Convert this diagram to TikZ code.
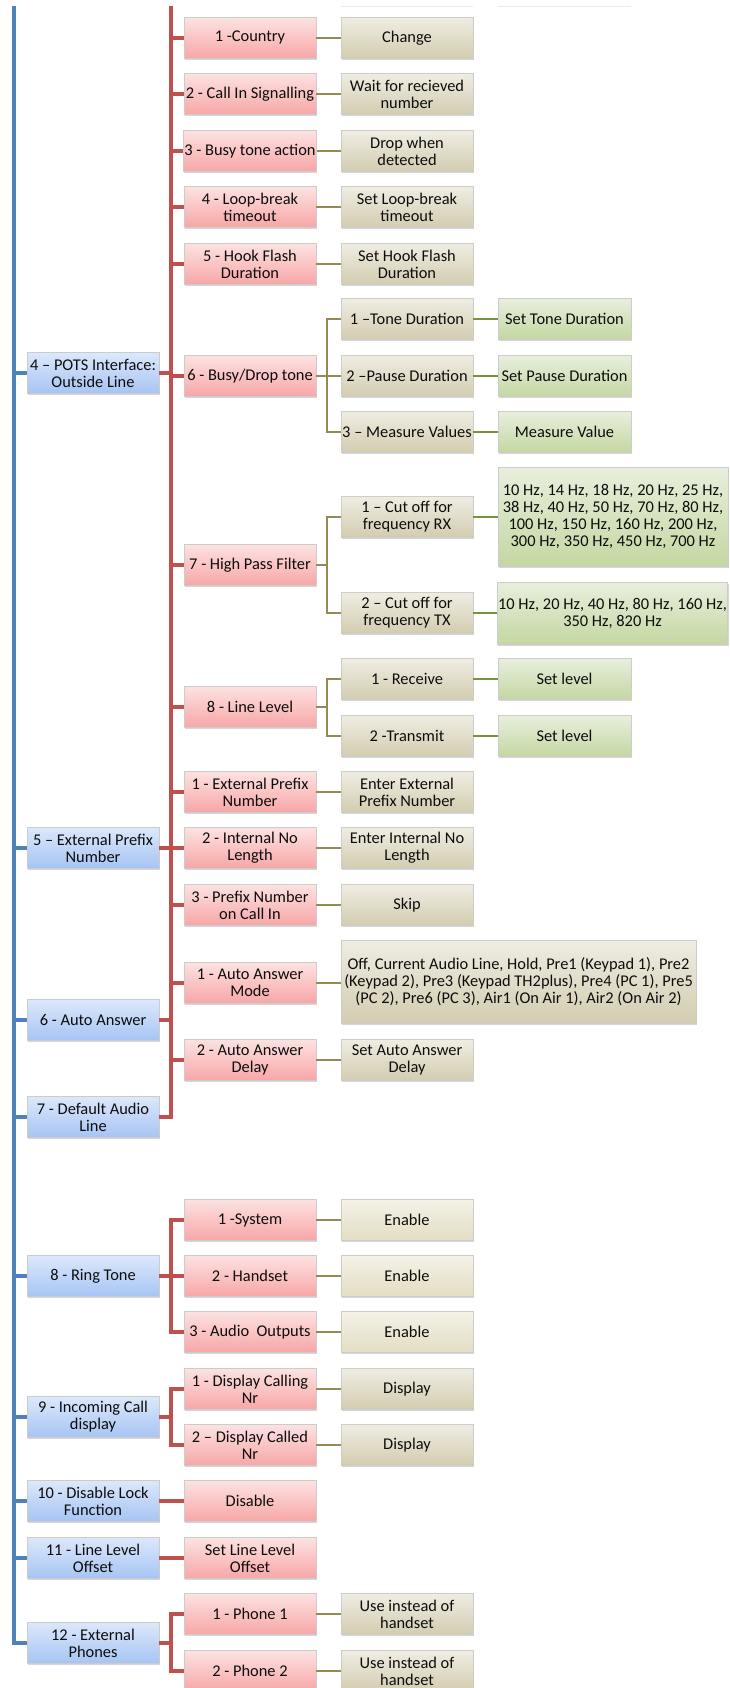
\documentclass[tikz,border=0pt]{standalone}
\usepackage{fontspec}
\setmainfont{Carlito}
\usetikzlibrary{shadows,calc}
\definecolor{blueL}{HTML}{4F81BD}
\definecolor{redL}{HTML}{C0504D}
\definecolor{oliveL}{HTML}{948A54}
\definecolor{greenL}{HTML}{77933C}
\definecolor{bluT}{HTML}{DCE8FB}
\definecolor{bluB}{HTML}{A6C4F3}
\definecolor{redT}{HTML}{FDE2E2}
\definecolor{redB}{HTML}{F7A6A6}
\definecolor{tanT}{HTML}{EFEDE3}
\definecolor{tanB}{HTML}{D3CCB0}
\definecolor{ltanT}{HTML}{F5F2E8}
\definecolor{ltanB}{HTML}{E3DDC3}
\definecolor{grnT}{HTML}{E8EFDD}
\definecolor{grnB}{HTML}{C4D7A2}
\begin{document}
\begin{tikzpicture}[x=1pt,y=-1pt,
  box/.style={rectangle, draw=black!20, line width=0.8pt, minimum width=132pt, minimum height=41pt,
    inner sep=1pt, align=center, font=\fontsize{16.4}{17}\selectfont, text=black!95,
    drop shadow={shadow xshift=0.7pt, shadow yshift=-1.6pt, opacity=0.35, fill=black!45}},
  bluebox/.style={box, top color=bluT, bottom color=bluB},
  redbox/.style={box, top color=redT, bottom color=redB},
  tanbox/.style={box, top color=tanT, bottom color=tanB},
  ltanbox/.style={box, top color=ltanT, bottom color=ltanB},
  grnbox/.style={box, top color=grnT, bottom color=grnB, minimum width=133pt},
  bline/.style={draw=blueL, line width=3.6pt},
  rline/.style={draw=redL, line width=3.2pt},
  oline/.style={draw=oliveL, line width=2.8pt},
  gline/.style={draw=greenL, line width=2.8pt},
]
\useasboundingbox (0,0) rectangle (730,1688);
\fill[white] (0,0) rectangle (730,1688);

% faint remnants at top
\draw[black!8, line width=0.8pt] (341,6) -- (473,6);
\draw[black!8, line width=0.8pt] (498,6) -- (631,6);

\coordinate (btop) at (14,6);
\coordinate (rtop) at (171,6);
\coordinate (rx) at (171,0);
\coordinate (ox) at (327,0);

% blue boxes
\node[bluebox] (b4) at (93,373) {4 – POTS Interface:\\Outside Line};
\node[bluebox] (b5) at (93,848) {5 – External Prefix\\Number};
\node[bluebox] (b6) at (93,1020) {6 - Auto Answer};
\node[bluebox] (b7) at (93,1117) {7 - Default Audio\\Line};
\node[bluebox] (b8) at (93,1276) {8 - Ring Tone};
\node[bluebox] (b9) at (93,1417) {9 - Incoming Call\\display};
\node[bluebox] (b10) at (93,1501) {10 - Disable Lock\\Function};
\node[bluebox] (b11) at (93,1558) {11 - Line Level\\Offset};
\node[bluebox] (b12) at (93,1643) {12 - External\\Phones};

% red boxes
\node[redbox] (r1) at (250,38) {1 -Country};
\node[redbox] (r2) at (250,94) {2 - Call In Signalling};
\node[redbox] (r3) at (250,151) {3 - Busy tone action};
\node[redbox] (r4) at (250,207) {4 - Loop-break\\timeout};
\node[redbox] (r5) at (250,264) {5 - Hook Flash\\Duration};
\node[redbox] (r6) at (250,376) {6 - Busy/Drop tone};
\node[redbox] (r7) at (250,565) {7 - High Pass Filter};
\node[redbox] (r8) at (250,707) {8 - Line Level};
\node[redbox] (r9) at (250,792) {1 - External Prefix\\Number};
\node[redbox] (r10) at (250,848) {2 - Internal No\\Length};
\node[redbox] (r11) at (250,905) {3 - Prefix Number\\on Call In};
\node[redbox] (r12) at (250,983) {1 - Auto Answer\\Mode};
\node[redbox] (r13) at (250,1060) {2 - Auto Answer\\Delay};
\node[redbox] (r14) at (250,1220) {1 -System};
\node[redbox] (r15) at (250,1276) {2 - Handset};
\node[redbox] (r16) at (250,1332) {3 - Audio\ \ Outputs};
\node[redbox] (r17) at (250,1389) {1 - Display Calling\\Nr};
\node[redbox] (r18) at (250,1445) {2 – Display Called\\Nr};
\node[redbox] (r19) at (250,1501) {Disable};
\node[redbox] (r20) at (250,1558) {Set Line Level\\Offset};
\node[redbox] (r21) at (250,1614) {1 - Phone 1};
\node[redbox] (r22) at (250,1671) {2 - Phone 2};

% tan boxes
\node[tanbox] (t1) at (407,38) {Change};
\node[tanbox] (t2) at (407,94) {Wait for recieved\\number};
\node[tanbox] (t3) at (407,151) {Drop when\\detected};
\node[tanbox] (t4) at (407,207) {Set Loop-break\\timeout};
\node[tanbox] (t5) at (407,264) {Set Hook Flash\\Duration};
\node[tanbox] (t6) at (407,319) {1 –Tone Duration};
\node[tanbox] (t7) at (407,376) {2 –Pause Duration};
\node[tanbox] (t8) at (407,432) {3 – Measure Values};
\node[tanbox] (t9) at (407,517) {1 – Cut off for\\frequency RX};
\node[tanbox] (t10) at (407,613) {2 – Cut off for\\frequency TX};
\node[tanbox] (t11) at (407,679) {1 - Receive};
\node[tanbox] (t12) at (407,736) {2 -Transmit};
\node[tanbox] (t13) at (407,792) {Enter External\\Prefix Number};
\node[tanbox] (t14) at (407,848) {Enter Internal No\\Length};
\node[tanbox] (t15) at (407,905) {Skip};
\node[tanbox, minimum width=355pt, minimum height=83pt, inner sep=0pt] (t16) at (518.5,981.5)
  {Off, Current Audio Line, Hold, Pre1 (Keypad 1), Pre2\\(Keypad 2), Pre3 (Keypad TH2plus), Pre4 (PC 1), Pre5\\(PC 2), Pre6 (PC 3), Air1 (On Air 1), Air2 (On Air 2)};
\node[tanbox] (t17) at (407,1060) {Set Auto Answer\\Delay};
\node[ltanbox] (e1) at (407,1220) {Enable};
\node[ltanbox] (e2) at (407,1276) {Enable};
\node[ltanbox] (e3) at (407,1332) {Enable};
\node[tanbox] (t18) at (407,1389) {Display};
\node[tanbox] (t19) at (407,1445) {Display};
\node[tanbox] (t20) at (407,1614) {Use instead of\\handset};
\node[tanbox] (t21) at (407,1671) {Use instead of\\handset};

% green boxes
\node[grnbox] (g1) at (564.5,319) {Set Tone Duration};
\node[grnbox] (g2) at (564.5,376) {Set Pause Duration};
\node[grnbox] (g3) at (564.5,432) {Measure Value};
\node[grnbox, minimum width=230pt, minimum height=99pt] (g4) at (613,516.5)
  {10 Hz, 14 Hz, 18 Hz, 20 Hz, 25 Hz,\\38 Hz, 40 Hz, 50 Hz, 70 Hz, 80 Hz,\\100 Hz, 150 Hz, 160 Hz, 200 Hz,\\300 Hz, 350 Hz, 450 Hz, 700 Hz};
\node[grnbox, minimum width=229pt, minimum height=62pt] (g5) at (612.5,613)
  {10 Hz, 20 Hz, 40 Hz, 80 Hz, 160 Hz,\\350 Hz, 820 Hz};
\node[grnbox] (g6) at (564.5,679) {Set level};
\node[grnbox] (g7) at (564.5,736) {Set level};

% blue
\draw[bline] (btop) |- (b12.west);
\foreach \b in {b4,b5,b6,b7,b8,b9,b10,b11}
  \draw[bline] (\b.west) -- (\b.west -| btop);

% red main
\draw[rline] (rtop) |- (b7.east);
\foreach \b in {b4,b5,b6}
  \draw[rline] (\b.east) -- (\b.east -| rtop);
\foreach \r in {r1,r2,r3,r4,r5,r6,r7,r8,r9,r10,r11,r12,r13}
  \draw[rline] (\r.west) -- (\r.west -| rtop);
% ring tone
\draw[rline] (b8.east) -- (r15.west);
\draw[rline] (r14.west) -- (r14.west -| rx) |- (r16.west);
% incoming call
\draw[rline] (b9.east) -- (b9.east -| rx);
\draw[rline] (r17.west) -- (r17.west -| rx) |- (r18.west);
% 10, 11
\draw[rline] (b10.east) -- (r19.west);
\draw[rline] (b11.east) -- (r20.west);
% 12
\draw[rline] (b12.east) -- (b12.east -| rx);
\draw[rline] (r21.west) -- (r21.west -| rx) |- (r22.west);

% olive
\foreach \r/\t in {r1/t1,r2/t2,r3/t3,r4/t4,r5/t5,r9/t13,r10/t14,r11/t15,r13/t17,r14/e1,r15/e2,r16/e3,r17/t18,r18/t19,r21/t20,r22/t21}
  \draw[oline] (\r.east) -- (\t.west);
\draw[oline] (r12.east) -- (t16.west |- r12.east);
\draw[oline] (r6.east) -- (r6.east -| ox);
\draw[oline] (t6.west) -- (t6.west -| ox) |- (t8.west);
\draw[oline] (t7.west) -- (t7.west -| ox);
\draw[oline] (r7.east) -- (r7.east -| ox);
\draw[oline] (t9.west) -- (t9.west -| ox) |- (t10.west);
\draw[oline] (r8.east) -- (r8.east -| ox);
\draw[oline] (t11.west) -- (t11.west -| ox) |- (t12.west);

% green
\foreach \t/\g in {t6/g1,t7/g2,t8/g3,t10/g5,t11/g6,t12/g7}
  \draw[gline] (\t.east) -- (\g.west);
\draw[gline] (t9.east) -- (g4.west |- t9.east);
\end{tikzpicture}
\end{document}
